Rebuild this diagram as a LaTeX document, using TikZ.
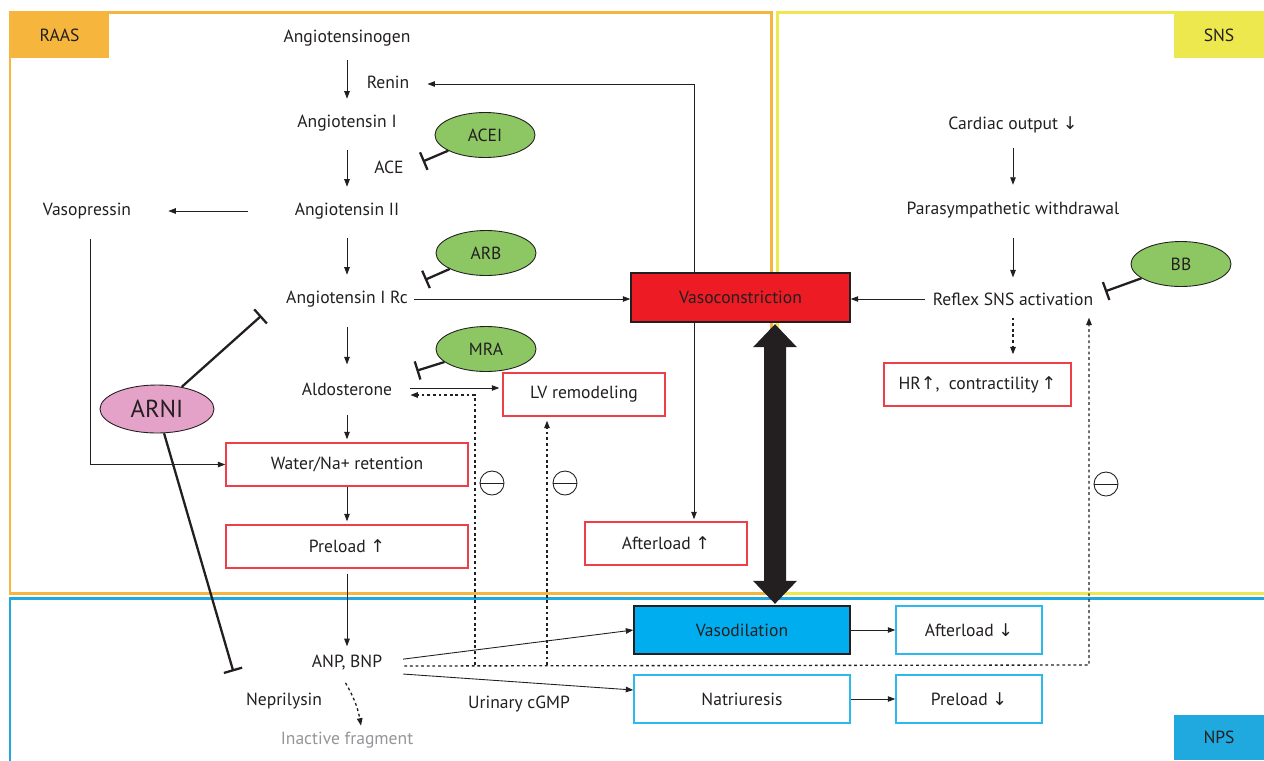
\documentclass[tikz,border=0pt]{standalone}
\usepackage{fontspec}
\setmainfont{PT Sans}
\newfontfamily\symfont{DejaVu Sans}
\usepackage{tikz}
\usetikzlibrary{positioning}
\usetikzlibrary{calc}
\usetikzlibrary{arrows.meta}
\usetikzlibrary{shapes.geometric}

\definecolor{ink}{HTML}{231F20}
\definecolor{raasOrange}{HTML}{F6B53C}
\definecolor{snsYellow}{HTML}{ECE84D}
\definecolor{npsBlue}{HTML}{1FA9DF}
\definecolor{alarmRed}{HTML}{EE3E48}
\definecolor{vcRed}{HTML}{ED1C24}
\definecolor{vdBlue}{HTML}{00AEEF}
\definecolor{calmBlue}{HTML}{2DB8EE}
\definecolor{drugGreen}{HTML}{8CC764}
\definecolor{arniPink}{HTML}{E4A2C8}
\definecolor{fadeGray}{HTML}{939598}

\newcommand{\arrUp}{{\symfont ↑}}
\newcommand{\arrDown}{{\symfont ↓}}

\tikzset{
	frame/.style={line width=1.7pt},
	tag/.style={minimum width=1.8cm, minimum height=0.92cm, inner sep=0pt, text=ink},
	term/.style={text=ink},
	redbox/.style={draw=alarmRed, line width=0.8pt, fill=white, minimum height=0.86cm, inner sep=0pt, text=ink},
	bluebox/.style={draw=calmBlue, line width=0.8pt, fill=white, minimum height=0.96cm, inner sep=0pt, text=ink},
	drug/.style={ellipse, draw=ink, line width=0.5pt, fill=drugGreen, minimum width=2cm, minimum height=0.9cm, inner sep=0pt, text=ink},
	flow/.style={-{Triangle[length=1.5mm,width=1.1mm]}, draw=ink, line width=0.5pt},
	cascade/.style={flow, shorten <=0.2cm, shorten >=0.2cm},
	hint/.style={flow, line width=0.75pt, dash pattern=on 1.6pt off 1.6pt},
	block/.style={-{Bar[width=0.38cm]}, draw=ink, line width=1.3pt},
	minus/.style={circle, draw=ink, line width=0.5pt, minimum size=0.48cm, inner sep=0pt}
}

\begin{document}
\begin{tikzpicture}[node distance=1cm, on grid, font=\fontsize{10}{12}\selectfont]
	\useasboundingbox (0,0) rectangle (25.28,-15.2);
	
	% --- frames
	
	\draw[frame, draw=raasOrange] (0.2,-0.24) rectangle (15.42,-11.86);
	\draw[frame, draw=snsYellow] (15.54,-0.24) rectangle (25.4,-11.86);
	\draw[frame, draw=npsBlue] (0.2,-11.96) rectangle (25.4,-15.4);
	
	\node[tag, fill=raasOrange, minimum width=1.98cm] (raasTag) at (1.19,-0.70) {RAAS};
	\node[tag, fill=snsYellow] (snsTag) at (24.38,-0.70) {SNS};
	\node[tag, fill=npsBlue, minimum height=0.9cm] (npsTag) at (24.38,-14.75) {NPS};
	
	% --- RAAS cascade
	
	\node[term] (angiotensinogen) at (6.94,-0.76) {Angiotensinogen};
	
	\node[
	term,
	below right=0.88cm and 0.82cm of angiotensinogen
	] (renin) {Renin};
	
	\node[
	term,
	below=1.7cm of angiotensinogen
	] (angI) {Angiotensin I};
	
	\node[
	term,
	below right=0.88cm and 0.84cm of angI
	] (ace) {ACE};
	
	\node[
	term,
	below=1.76cm of angI
	] (angII) {Angiotensin II};
	
	\node[
	term,
	left=5.2cm of angII
	] (vasopressin) {Vasopressin};
	
	\node[
	term,
	below=1.76cm of angII
	] (angIRc) {Angiotensin I Rc};
	
	\node[
	term,
	below=1.8cm of angIRc
	] (aldo) {Aldosterone};
	
	\node[
	redbox,
	minimum width=4.84cm,
	below=1.51cm of aldo
	] (water) {Water/Na+ retention};
	
	\node[
	redbox,
	minimum width=4.84cm,
	below=1.64cm of water
	] (preload) {Preload \arrUp};
	
	\node[
	term,
	below=2.33cm of preload
	] (anp) {ANP, BNP};
	
	\node[
	term,
	below left=0.76cm and 1.26cm of anp
	] (neprilysin) {Neprilysin};
	
	\node[
	term,
	text=fadeGray,
	below=1.54cm of anp
	] (inactive) {Inactive fragment};
	
	\node[term] (urinary) at (10.38,-14.08) {Urinary cGMP};
	
	% --- effects
	
	\node[redbox, minimum width=3.24cm] (lv) at (11.68,-7.89) {LV remodeling};
	\node[redbox, minimum width=3.24cm] (afterUp) at (13.32,-10.87) {Afterload \arrUp};
	
	\node[
	draw=ink,
	line width=0.8pt,
	fill=vcRed,
	text=ink,
	minimum width=4.38cm,
	minimum height=0.98cm
	] (vasocon) at (14.81,-5.95) {Vasoconstriction};
	
	\node[
	draw=ink,
	line width=0.8pt,
	fill=vdBlue,
	text=ink,
	minimum width=4.32cm,
	minimum height=0.96cm
	] (vasodil) at (14.84,-12.6) {Vasodilation};
	
	\node[bluebox, minimum width=2.92cm, right=4.54cm of vasodil] (afterDown) {Afterload \arrDown};
	\node[bluebox, minimum width=4.32cm, below=1.38cm of vasodil] (natri) {Natriuresis};
	\node[bluebox, minimum width=2.92cm, right=4.54cm of natri] (preDown) {Preload \arrDown};
	
	% --- SNS
	
	\node[term] (cardiac) at (20.26,-2.5) {Cardiac output \arrDown};
	
	\node[
	term,
	below=1.7cm of cardiac
	] (parasym) {Parasympathetic withdrawal};
	
	\node[
	term,
	below=1.78cm of parasym
	] (reflex) {Reflex SNS activation};
	
	\node[redbox, minimum width=3.74cm] (hr) at (19.55,-7.69) {HR\arrUp,\ \ contractility\,\arrUp};
	
	% --- drugs
	
	\node[drug] (acei) at (9.70,-2.70) {ACEI};
	\node[drug] (arb) at (9.72,-5.06) {ARB};
	\node[drug] (mra) at (9.72,-6.98) {MRA};
	\node[drug] (bb) at (23.62,-5.28) {BB};
	\node[
	drug,
	fill=arniPink,
	minimum width=2.28cm,
	minimum height=0.96cm,
	font=\fontsize{14}{16}\selectfont
	] (arni) at (3.14,-8.18) {ARNI};
	
	\node[minus] (minusA) at (9.84,-9.66) {};
	\node[minus] (minusB) at (11.30,-9.66) {};
	\node[minus] (minusC) at (22.12,-9.68) {};
	\draw[ink, line width=0.5pt] (minusA.west) -- (minusA.east);
	\draw[ink, line width=0.5pt] (minusB.west) -- (minusB.east);
	\draw[ink, line width=0.5pt] (minusC.west) -- (minusC.east);
	
	% --- cascade arrows
	
	\draw[cascade, shorten <=0.16cm] (angiotensinogen) -- (angI);
	\draw[cascade, shorten <=0.26cm] (angI) -- (angII);
	\draw[cascade, shorten <=0.26cm] (angII) -- (angIRc);
	\draw[cascade, shorten <=0.28cm, shorten >=0.24cm] (angIRc) -- (aldo);
	\draw[flow, shorten <=0.26cm, shorten >=0.06cm] (aldo) -- (water);
	\draw[flow, shorten >=0.06cm] (water) -- (preload);
	\draw[flow, shorten <=0.1cm, shorten >=0.06cm] (preload) -- (anp);
	
	\draw[flow, shorten <=0.82cm, shorten >=0.62cm] (angII.west) -- (vasopressin.east);
	\draw[flow, shorten <=0.28cm] ([xshift=0.06cm]vasopressin.south) |- (water.west);
	
	\draw[flow] (angIRc.east) -- (angIRc.east -| vasocon.west);
	\draw[flow, shorten >=0.24cm] ([xshift=-0.93cm]vasocon.north) |- ([yshift=-0.04cm]renin.east);
	\coordinate (vcFoot) at ([xshift=-0.93cm]vasocon.south);
	\draw[flow, shorten >=0.04cm] (vcFoot) -- (vcFoot |- afterUp.north);
	\draw[flow, shorten <=0.24cm, shorten >=0.06cm] ([yshift=0.02cm]aldo.east) -- ([yshift=0.02cm]aldo.east -| lv.west);
	
	% --- NPS arrows
	
	\draw[flow, shorten <=0.3cm] ([yshift=0.04cm]anp.east) -- (vasodil.west);
	\draw[flow, shorten <=0.3cm] ([yshift=-0.2cm]anp.east) -- ([yshift=0.18cm]natri.west);
	\draw[flow] (vasodil) -- (afterDown);
	\draw[flow] (natri) -- (preDown);
	\draw[hint, shorten <=0.14cm] ([xshift=-0.1cm]anp.south) to[out=-60, in=100] ([xshift=0.28cm]inactive.north);
	
	% --- feedback
	
	\coordinate (fbCorner) at (21.78,-13.3);
	\coordinate (fbAldo) at (9.5,-13.3);
	\coordinate (fbLV) at (10.94,-13.3);
	\draw[hint, shorten <=0.32cm, shorten >=0.12cm] ([yshift=-0.06cm]anp.east) -- (fbCorner) -- (fbCorner |- reflex.south);
	\draw[hint, shorten >=0.24cm] (fbAldo) |- ([yshift=-0.12cm]aldo.east);
	\draw[hint, shorten >=0.08cm] (fbLV) -- (fbLV |- lv.south);
	
	% --- SNS arrows
	
	\draw[cascade, shorten <=0.18cm, shorten >=0.22cm] (cardiac) -- (parasym);
	\draw[cascade, shorten <=0.28cm, shorten >=0.18cm] (parasym) -- (reflex);
	\draw[hint, shorten <=0.12cm, shorten >=0.16cm] (reflex.south) -- (reflex.south |- hr.north);
	\draw[flow, shorten <=0.04cm] (reflex.west) -- (reflex.west -| vasocon.east);
	
	% --- inhibition
	
	\draw[block, shorten >=0.28cm] (acei) -- (ace.east);
	\draw[block, shorten >=0.24cm] (arb) -- (angIRc.north east);
	\draw[block, shorten >=0.38cm] (mra) -- (aldo.north east);
	\draw[block, shorten >=0.12cm] (bb) -- ([yshift=-0.14cm]reflex.north east);
	\draw[block, shorten >=0.5cm] (arni) -- (angIRc.west);
	\draw[block, shorten >=0.32cm] (arni) -- ([xshift=-0.04cm]neprilysin.north west);
	
	% --- big double arrow
	
	\coordinate (bigTop) at ([xshift=0.69cm, yshift=-0.03cm]vasocon.south);
	\coordinate (bigBot) at ([yshift=0.03cm]bigTop |- vasodil.north);
	\fill[ink] (bigTop) -- ++(0.44,-0.46) -- ++(-0.22,0) -- ($(bigBot)+(0.22,0.46)$) -- ++(0.22,0) -- (bigBot)
	-- ++(-0.44,0.46) -- ++(0.22,0) -- ($(bigTop)+(-0.22,-0.46)$) -- ++(-0.22,0) -- cycle;
\end{tikzpicture}
\end{document}
